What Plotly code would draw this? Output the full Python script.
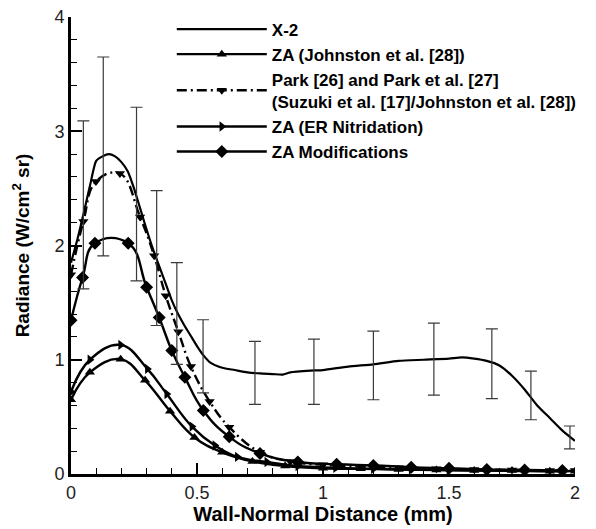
import plotly.graph_objects as go

# ---------------- data ----------------
x2_x = [0, 0.025, 0.05, 0.075, 0.1, 0.125, 0.15, 0.175, 0.2, 0.225, 0.25, 0.275, 0.3, 0.325,
        0.35, 0.375, 0.4, 0.425, 0.45, 0.475, 0.5, 0.525, 0.55, 0.6, 0.65, 0.7, 0.75, 0.8,
        0.84, 0.87, 0.95, 1.0, 1.1, 1.2, 1.3, 1.4, 1.5, 1.55, 1.6, 1.65, 1.7, 1.75, 1.8,
        1.85, 1.9, 1.95, 2.0]
x2_y = [1.85, 2.05, 2.28, 2.52, 2.74, 2.78, 2.80, 2.78, 2.73, 2.65, 2.50, 2.32, 2.14, 1.97,
        1.82, 1.67, 1.52, 1.40, 1.30, 1.21, 1.12, 1.04, 0.98, 0.93, 0.91, 0.89, 0.88, 0.875,
        0.87, 0.89, 0.905, 0.91, 0.94, 0.96, 0.99, 1.00, 1.01, 1.02, 1.01, 0.99, 0.95, 0.86,
        0.74, 0.60, 0.49, 0.38, 0.29]

err_x = [0.049, 0.128, 0.26, 0.34, 0.42, 0.524, 0.73, 0.964, 1.2, 1.44, 1.67, 1.825, 1.98]
err_top = [3.09, 3.65, 3.21, 2.48, 1.85, 1.35, 1.16, 1.18, 1.25, 1.32, 1.27, 0.90, 0.42]
err_bot = [1.62, 1.91, 1.69, 1.30, 0.96, 0.71, 0.61, 0.61, 0.65, 0.69, 0.66, 0.475, 0.22]

joh_x = [0, 0.075, 0.197, 0.294, 0.393, 0.49, 0.60, 0.72, 0.85, 1.0, 1.15, 1.3, 1.45, 1.6,
         1.75, 1.9, 2.0]
joh_y = [0.65, 0.89, 1.005, 0.82, 0.55, 0.32, 0.19, 0.11, 0.07, 0.05, 0.045, 0.04, 0.035,
         0.03, 0.03, 0.025, 0.025]

park_x = [0, 0.049, 0.099, 0.194, 0.274, 0.33, 0.376, 0.426, 0.476, 0.55, 0.628, 0.75, 0.87,
          1.0, 1.15, 1.3, 1.45, 1.6, 1.75, 1.9, 2.0]
park_y = [1.745, 2.21, 2.56, 2.63, 2.25, 1.91, 1.56, 1.245, 0.94, 0.635, 0.41, 0.19, 0.11,
          0.08, 0.065, 0.055, 0.045, 0.04, 0.035, 0.03, 0.03]

er_x = [0, 0.075, 0.197, 0.303, 0.38, 0.48, 0.571, 0.66, 0.777, 0.9, 1.05, 1.2, 1.35, 1.5,
        1.65, 1.8, 1.95]
er_y = [0.72, 1.0, 1.13, 0.92, 0.70, 0.415, 0.25, 0.15, 0.105, 0.07, 0.055, 0.045, 0.04,
        0.035, 0.03, 0.025, 0.025]

mod_x = [0, 0.046, 0.095, 0.227, 0.30, 0.35, 0.40, 0.452, 0.525, 0.628, 0.75, 0.90, 1.054,
         1.2, 1.35, 1.5, 1.65, 1.8, 1.95]
mod_y = [1.345, 1.72, 2.02, 2.02, 1.635, 1.37, 1.08, 0.846, 0.556, 0.325, 0.18, 0.105, 0.085,
         0.075, 0.06, 0.05, 0.04, 0.035, 0.03]

names = ["X-2", "ZA (Johnston et al. [28])",
         "Park [26] and Park et al. [27]<br>(Suzuki et al. [17]/Johnston et al. [28])",
         "ZA (ER Nitridation)", "ZA Modifications"]

x_ticks = [0, 0.5, 1, 1.5, 2]
x_tick_text = ["0", "0.5", "1", "1.5", "2"]
y_ticks = [0, 1, 2, 3, 4]
y_tick_text = ["0", "1", "2", "3", "4"]

# ---------------- figure ----------------
FONT = "Liberation Sans, Arial, Helvetica, sans-serif"
fig = go.Figure()

fig.add_trace(go.Scatter(
    x=x2_x, y=x2_y, mode="lines", name=names[0],
    line=dict(color="black", width=2.2, shape="spline", smoothing=0.6)))

fig.add_trace(go.Scatter(
    x=joh_x, y=joh_y, mode="lines+markers", name=names[1],
    line=dict(color="black", width=2.4, shape="spline", smoothing=1.2),
    marker=dict(symbol="triangle-up", size=9, color="black")))

fig.add_trace(go.Scatter(
    x=park_x, y=park_y, mode="lines+markers", name=names[2],
    line=dict(color="black", width=2.4, shape="spline", smoothing=1.2,
              dash="10px,4px,2px,4px"),
    marker=dict(symbol="triangle-down", size=9, color="black")))

fig.add_trace(go.Scatter(
    x=er_x, y=er_y, mode="lines+markers", name=names[3],
    line=dict(color="black", width=2.4, shape="spline", smoothing=1.2),
    marker=dict(symbol="triangle-right", size=9, color="black")))

fig.add_trace(go.Scatter(
    x=mod_x, y=mod_y, mode="lines+markers", name=names[4],
    line=dict(color="black", width=2.4, shape="spline", smoothing=1.3),
    marker=dict(symbol="diamond", size=10, color="black")))

# error bars of X-2 measurements (bottom to top)
fig.add_trace(go.Scatter(
    x=err_x, y=err_bot, mode="markers", showlegend=False, hoverinfo="skip",
    marker=dict(size=1, color="rgba(0,0,0,0)"),
    error_y=dict(type="data", symmetric=False,
                 array=[t - b for t, b in zip(err_top, err_bot)],
                 arrayminus=[0] * len(err_bot),
                 color="#3a3a3a", thickness=1.2, width=6)))

fig.update_layout(
    width=596, height=529,
    margin=dict(l=71, r=21, t=14, b=55),
    paper_bgcolor="white", plot_bgcolor="white",
    font=dict(family=FONT, color="black", size=18),
    showlegend=True,
    legend=dict(x=0.2, y=1.012, xanchor="left", yanchor="top",
                bgcolor="rgba(0,0,0,0)", itemwidth=90,
                font=dict(family=FONT, size=17, color="black", weight="bold"),
                tracegroupgap=0),
    xaxis=dict(range=[0, 2], tickvals=x_ticks, ticktext=x_tick_text,
               showgrid=False, zeroline=False, automargin=False,
               showline=True, linecolor="black", linewidth=3,
               ticks="inside", ticklen=11, tickwidth=2, tickcolor="black",
               minor=dict(dtick=0.1, ticks="inside", ticklen=6, tickwidth=1,
                          tickcolor="black", showgrid=False),
               tickfont=dict(size=18, color="#222"),
               title=dict(text="<b>Wall-Normal Distance (mm)</b>",
                          font=dict(size=20, color="black"), standoff=6)),
    yaxis=dict(range=[0, 4], tickvals=y_ticks, ticktext=y_tick_text,
               showgrid=False, zeroline=False, automargin=False,
               showline=True, linecolor="black", linewidth=3,
               ticks="inside", ticklen=11, tickwidth=2, tickcolor="black",
               minor=dict(dtick=0.2, ticks="inside", ticklen=6, tickwidth=1,
                          tickcolor="black", showgrid=False),
               tickfont=dict(size=18, color="#222"),
               title=dict(text="<b>Radiance (W/cm<sup>2</sup> sr)</b>",
                          font=dict(size=19, color="black"), standoff=20)),
)

fig.write_html("out.html")
